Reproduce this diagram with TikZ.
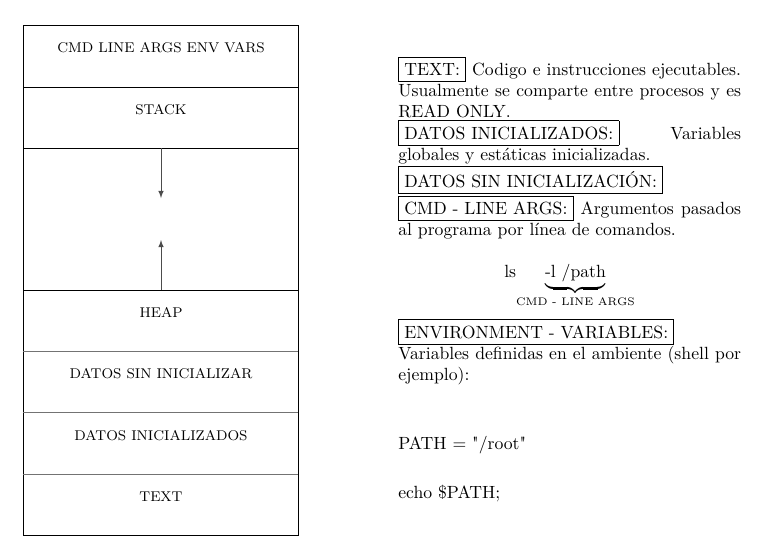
\documentclass[tikz,border=0pt]{standalone}
\usepackage{amsmath}
\usepackage{tikz}
\usetikzlibrary{calc}
\hyphenpenalty=10000

\begin{document}
\begin{tikzpicture}[x=0.566pt, y=-0.566pt]
\useasboundingbox (0,0) rectangle (774,553);

% =====================
% Memory layout of a process (outline and segments)
% =====================
\draw (23,25) rectangle (298,535);
\foreach \ypos in {87,148,290} \draw (23,\ypos) -- (298,\ypos);
\foreach \ypos in {351,412,474} \draw[black!55] (23,\ypos) -- (298,\ypos);

% Segment labels
\tikzset{seglabel/.style={font=\footnotesize, inner sep=0pt}}
\node[seglabel] (args) at (161,48) {CMD LINE ARGS ENV VARS};
\node[seglabel] (stack) at (161,110) {STACK};
\node[seglabel] (heap) at (161,312) {HEAP};
\node[seglabel] (bss) at (161,374) {DATOS SIN INICIALIZAR};
\node[seglabel] (data) at (161,436) {DATOS INICIALIZADOS};
\node[seglabel] (text) at (161,497) {TEXT};

% =====================
% Stack grows down, heap grows up
% =====================
\coordinate (StackTop) at (161,148);
\coordinate (StackEnd) at (161,198);
\coordinate (HeapTop) at (161,290);
\coordinate (HeapEnd) at (161,240);
\draw[-latex, black!70] (StackTop) -- (StackEnd);
\draw[-latex, black!70] (HeapTop) -- (HeapEnd);

% =====================
% Description of each segment
% =====================
\tikzset{desc/.style={anchor=north west, text width=194pt, align=justify, inner sep=0pt}}
\node[desc] (segs) at (398,57) {\fbox{TEXT:} Codigo e instrucciones ejecutables. Usualmente se comparte entre procesos y es READ ONLY.\\
\fbox{DATOS INICIALIZADOS:} Variables globales y estáticas inicializadas.\\
\fbox{DATOS SIN INICIALIZACIÓN:}\\
\fbox{CMD - LINE ARGS:} Argumentos pasados al programa por línea de comandos.};

% Command line example
\node[inner sep=0pt] (lsline) at (569.5,286) {ls$\underbrace{\text{-l /path}}_{\text{\fontsize{6.2}{7}\selectfont CMD - LINE ARGS}}$};

% Environment variables
\node[desc] (env) at (398,319) {\fbox{ENVIRONMENT - VARIABLES:}\\
Variables definidas en el ambiente (shell por ejemplo):};
\node[anchor=base west, inner sep=0pt] (path) at (398,449) {PATH $=$ \textquotedbl/root\textquotedbl};
\node[anchor=base west, inner sep=0pt] (echo) at (398,498) {echo \$PATH;};
\end{tikzpicture}
\end{document}
